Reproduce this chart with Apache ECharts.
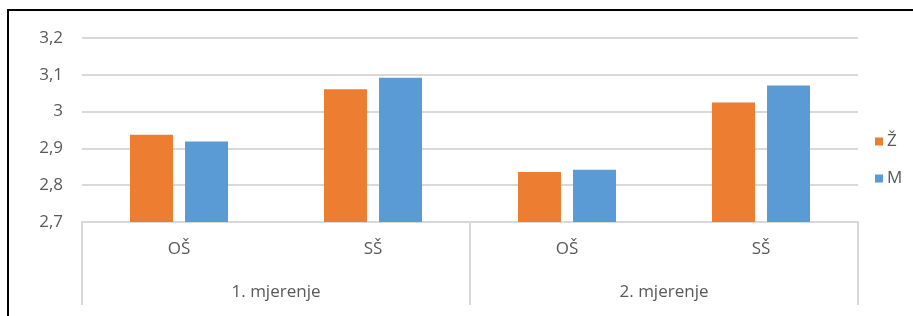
<!DOCTYPE html>
<html>
<head>
<meta charset="utf-8">
<script src="https://cdn.jsdelivr.net/npm/echarts@6/dist/echarts.min.js"></script>
<style>
  html, body { margin: 0; padding: 0; background: #fff; }
  #chart { position: absolute; left: 0; top: 0; width: 913px; height: 316px; }
  #frame { position: absolute; left: 7px; top: 9px; width: 1000px; height: 400px;
           border-top: 2px solid #000; border-left: 2px solid #000; pointer-events: none; }
</style>
</head>
<body>
<div id="chart"></div>
<div id="frame"></div>
<script>
const categories = ['OŠ', 'SŠ', 'OŠ', 'SŠ'];
const groups = ['1. mjerenje', '2. mjerenje'];
const seriesNames = ['Ž', 'M'];
const valuesZ = [2.937, 3.061, 2.836, 3.025];
const valuesM = [2.919, 3.092, 2.842, 3.071];
const yTicks = { min: 2.7, max: 3.2, interval: 0.1 };

const FONT = '"Open Sans", Lato, sans-serif';
const TXT = '#595959';
const FS = 17;
const chart = echarts.init(document.getElementById('chart'), null, { renderer: 'canvas' });
chart.setOption({
  animation: false,
  grid: { left: 82, right: 55, top: 38, bottom: 94, containLabel: false },
  legend: {
    orient: 'vertical', left: 870, top: 128,
    itemWidth: 8, itemHeight: 8, itemGap: 20, icon: 'rect',
    textStyle: { color: TXT, fontSize: FS, fontFamily: FONT, padding: [0, 0, 0, -1] },
    data: seriesNames
  },
  xAxis: [
    {
      type: 'category', data: categories, position: 'bottom',
      axisLine: { show: true, lineStyle: { color: '#d9d9d9', width: 2 } },
      axisTick: { show: false },
      axisLabel: { color: TXT, fontSize: FS, fontFamily: FONT, margin: 19 },
      splitLine: { show: false }
    },
    {
      type: 'category', data: groups, position: 'bottom',
      axisLine: { show: false },
      axisTick: { show: true, length: 83, inside: false, lineStyle: { color: '#d9d9d9', width: 2 } },
      axisLabel: { color: TXT, fontSize: FS, fontFamily: FONT, margin: 62 },
      splitLine: { show: false }
    }
  ],
  yAxis: {
    type: 'value', min: yTicks.min, max: yTicks.max, interval: yTicks.interval,
    axisLine: { show: false }, axisTick: { show: false },
    axisLabel: {
      color: TXT, fontSize: FS, fontFamily: FONT, margin: 19,
      formatter: v => String(Math.round(v * 10) / 10).replace('.', ',')
    },
    splitLine: { lineStyle: { color: '#d9d9d9', width: 2 } }
  },
  series: [
    { name: seriesNames[0], type: 'bar', xAxisIndex: 0, data: valuesZ, barWidth: 43, barGap: '28%',
      itemStyle: { color: '#ED7D31' } },
    { name: seriesNames[1], type: 'bar', xAxisIndex: 0, data: valuesM, barWidth: 43, barGap: '28%',
      itemStyle: { color: '#5B9BD5' } }
  ]
});
</script>
</body>
</html>
